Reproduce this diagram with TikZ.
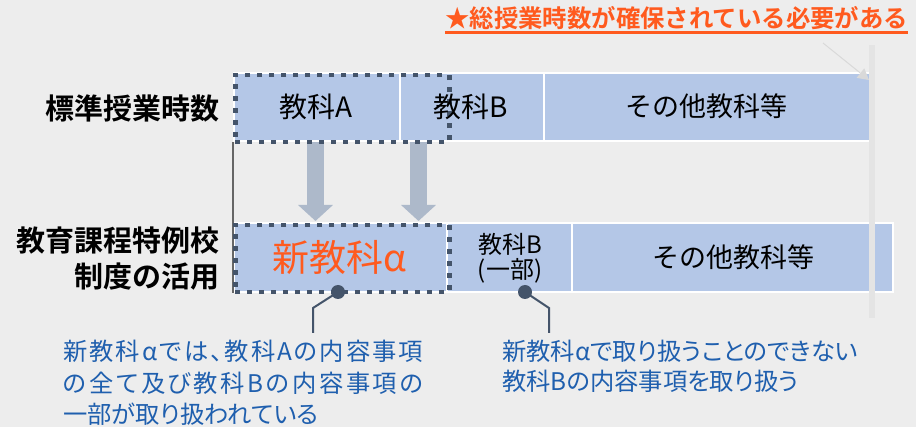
\documentclass[tikz,border=0pt]{standalone}
\usepackage{fontspec}
\setmainfont{Noto Sans CJK JP}[BoldFont={Noto Sans CJK JP Bold}]
\newfontfamily\notefont{Noto Sans CJK JP}[RawFeature=+palt]
\usetikzlibrary{arrows.meta}
\definecolor{bgc}{HTML}{EDEDED}
\definecolor{boxc}{HTML}{B4C7E7}
\definecolor{dotc}{HTML}{44546A}
\definecolor{arrc}{HTML}{ADB9CA}
\definecolor{orc}{HTML}{FF5A1E}
\definecolor{bluec}{HTML}{1F5FAE}
\definecolor{stripc}{HTML}{E4E4E4}
\definecolor{faintc}{HTML}{D9D9D9}
\tikzset{
  fs/.style={font=\fontsize{#1}{#1}\selectfont},
  cell/.style={fill=boxc, draw=white, line width=2pt, inner sep=0pt, anchor=north west},
  dotbox/.style={draw=dotc, line width=4.5pt, dash pattern=on 5pt off 7pt, inner sep=0pt, anchor=north west},
  blockarr/.style={draw=arrc, line width=17pt, -{Triangle[width=34pt,length=16pt]}},
  callline/.style={draw=dotc, line width=2pt},
  calldot/.style={circle, fill=dotc, inner sep=0pt, minimum size=14pt},
  celltext/.style={inner sep=0pt, text=black},
  note/.style={inner sep=0pt, anchor=west, text=bluec, font=\notefont\fontsize{24.3}{24.3}\selectfont},
  lbl/.style={inner sep=0pt, anchor=east, font=\bfseries\fontsize{29}{29}\selectfont},
}
\begin{document}
\begin{tikzpicture}[x=1pt, y=-1pt]
\useasboundingbox (0,0) rectangle (916,427);
\fill[bgc] (0,0) rectangle (916,427);

% top row
\node[cell, minimum width=166pt, minimum height=68pt] (topA) at (233,72) {};
\node[cell, minimum width=144pt, minimum height=68pt] (topB) at (399,72) {};
\node[cell, minimum width=326pt, minimum height=68pt] (topO) at (543,72) {};
% bottom row
\node[cell, minimum width=213pt, minimum height=69pt] (botN) at (233,222) {};
\node[cell, minimum width=125pt, minimum height=69pt] (botB) at (446,222) {};
\node[cell, minimum width=321pt, minimum height=69pt] (botO) at (571,222) {};

% left vertical line
\draw[gray!80!black, line width=1.3pt] (topA.south west) -- (botN.south west);

% strip and faint arrow
\node[fill=stripc, inner sep=0pt, minimum width=6pt, minimum height=273pt, anchor=north west] (strip) at (869,45) {};
\coordinate (fa1) at (823,43);
\coordinate (fa2) at (869,80);
\draw[faintc, line width=1pt, -{Triangle[width=12pt,length=11pt]}] (fa1) -- (fa2);

% block arrows
\coordinate (a1s) at (315.5,142);
\coordinate (a1e) at (315.5,221);
\coordinate (a2s) at (418.5,142);
\coordinate (a2e) at (418.5,221);
\draw[blockarr] (a1s) -- (a1e);
\draw[blockarr] (a2s) -- (a2e);

% dotted frames
\node[dotbox, minimum width=214pt, minimum height=67pt] (dA) at (233,73) {};
\node[dotbox, minimum width=214pt, minimum height=67pt] (dN) at (233,223) {};

% cell texts
\node[celltext, fs=28] (tA) at (316,106.5) {教科A};
\node[celltext, fs=28] (tB) at (471,106.5) {教科B};
\node[celltext, fs=27] (tO) at (706.5,106.5) {その他教科等};
\node[celltext, fs=37, text=orc] (tN) at (340,257) {新教科α};
\node[celltext, fs=24] (tB1) at (510,244) {教科B};
\node[celltext, fs=24] (tB2) at (510,271) {(一部)};
\node[celltext, fs=27] (tO2) at (733,257) {その他教科等};

% row labels
\node[lbl] (l1) at (220,108) {標準授業時数};
\node[lbl] (l2) at (220,241) {教育課程特例校};
\node[lbl] (l3) at (220,277) {制度の活用};

% title
\node[inner sep=0pt, anchor=west, text=orc, font=\bfseries\fontsize{24.4}{24.4}\selectfont] (title) at (445,18.5) {★総授業時数が確保されている必要がある};
\draw[orc, line width=2.2pt] ([yshift=-14pt]title.west) -- ([yshift=-14pt]title.east);

% callouts
\node[calldot] (c1) at (338,292) {};
\coordinate (c1k) at (313,308);
\coordinate (c1e) at (313,333);
\draw[callline] (c1.center) -- (c1k) -- (c1e);
\node[calldot] (c2) at (525,292) {};
\coordinate (c2k) at (549,308);
\coordinate (c2e) at (549,333);
\draw[callline] (c2.center) -- (c2k) -- (c2e);

% notes
\node[note] (n1) at (63,351) {\makebox[360pt][s]{新\hfil 教\hfil 科\hfil α\hfil で\hfil は\hfil 、\hfil 教\hfil 科\hfil A\hfil の\hfil 内\hfil 容\hfil 事\hfil 項}};
\node[note] (n2) at (63,383) {\makebox[360pt][s]{の\hfil 全\hfil て\hfil 及\hfil び\hfil 教\hfil 科\hfil B\hfil の\hfil 内\hfil 容\hfil 事\hfil 項\hfil の}};
\node[note] (n3) at (63,414) {一部が取り扱われている};
\node[note] (m1) at (502,351) {\makebox[355pt][s]{新\hfil 教\hfil 科\hfil α\hfil で\hfil 取\hfil り\hfil 扱\hfil う\hfil こ\hfil と\hfil の\hfil で\hfil き\hfil な\hfil い}};
\node[note] (m2) at (502,381) {教科Bの内容事項を取り扱う};
\end{tikzpicture}
\end{document}
